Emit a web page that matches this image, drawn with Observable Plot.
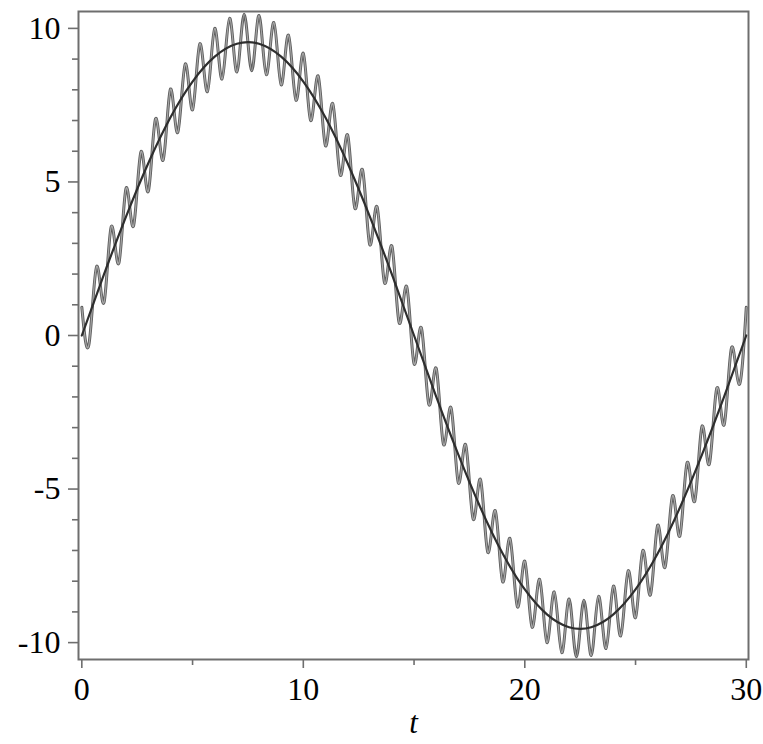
<!DOCTYPE html>
<html>
<head>
<meta charset="utf-8">
<script src="https://cdn.jsdelivr.net/npm/d3@7"></script>
<script src="https://cdn.jsdelivr.net/npm/@observablehq/plot@0.6"></script>
<style>
  html, body { margin: 0; padding: 0; background: #fff; }
</style>
</head>
<body>
<div id="chart"></div>
<script>
// Slow (smooth) curve
const smoothT = [0,1,2,3,4,5,6,7,8,9,10,11,12,13,14,15,16,17,18,19,20,21,22,23,24,25,26,27,28,29,30];
const smoothY = [0, 1.99, 3.88, 5.61, 7.10, 8.27, 9.08, 9.50, 9.50, 9.08, 8.27, 7.10, 5.61, 3.88, 1.99, 0,
  -1.99, -3.88, -5.61, -7.10, -8.27, -9.08, -9.50, -9.50, -9.08, -8.27, -7.10, -5.61, -3.88, -1.99, 0];

// Oscillating curve: successive peaks and troughs
const oscT = [0,0.33,0.67,1,1.33,1.67,2,2.33,2.67,3,3.33,3.67,4,4.33,4.67,5,5.33,5.67,6,6.33,6.67,7,7.33,7.67,
  8,8.33,8.67,9,9.33,9.67,10,10.33,10.67,11,11.33,11.67,12,12.33,12.67,13,13.33,13.67,14,14.33,14.67,15,
  15.33,15.67,16,16.33,16.67,17,17.33,17.67,18,18.33,18.67,19,19.33,19.67,20,20.33,20.67,21,21.33,21.67,
  22,22.33,22.67,23,23.33,23.67,24,24.33,24.67,25,25.33,25.67,26,26.33,26.67,27,27.33,27.67,28,28.33,28.67,
  29,29.33,29.67,30];
const oscY = [0.92, -0.25, 2.25, 1.07, 3.55, 2.35, 4.80, 3.56, 5.98, 4.69, 7.06, 5.71, 8.02, 6.61, 8.84, 7.35,
  9.50, 7.94, 10.00, 8.35, 10.33, 8.58, 10.46, 8.62, 10.42, 8.49, 10.19, 8.16, 9.78, 7.66, 9.19, 7.00, 8.45,
  6.18, 7.55, 5.22, 6.53, 4.14, 5.40, 2.96, 4.19, 1.71, 2.91, 0.41, 1.59, -0.92,
  0.25, -2.25, -1.07, -3.55, -2.35, -4.80, -3.56, -5.98, -4.69, -7.06, -5.71, -8.02, -6.61, -8.84, -7.35,
  -9.50, -7.94, -10.00, -8.35, -10.33, -8.58, -10.46, -8.62, -10.42, -8.49, -10.19, -8.16, -9.78, -7.66,
  -9.19, -7.00, -8.45, -6.18, -7.55, -5.22, -6.53, -4.14, -5.40, -2.96, -4.19, -1.71, -2.91, -0.41, -1.59, 0.92];

// Ticks
const xMajorTicks = [0, 10, 20, 30];
const xMinorTicks = [5, 15, 25];
const yMajorTicks = [-10, -5, 0, 5, 10];
const yMinorTicks = [-9,-8,-7,-6,-4,-3,-2,-1,1,2,3,4,6,7,8,9];
const xLabel = "t";

const smooth = smoothT.map((t, i) => ({t, y: smoothY[i]}));
const osc = oscT.map((t, i) => ({t, y: oscY[i]}));

const axisGray = "#6e6e6e";
const font = "Liberation Serif";

const chart = Plot.plot({
  width: 763,
  height: 744,
  marginLeft: 78,
  marginRight: 15,
  marginTop: 11,
  marginBottom: 85,
  style: {fontFamily: font, fontSize: "32px", background: "#fff", color: "#000", overflow: "visible"},
  x: {domain: [-0.15, 30.1]},
  y: {domain: [-10.55, 10.55]},
  marks: [
    Plot.axisY(yMinorTicks, {tickSize: 6, tickFormat: () => "", stroke: axisGray, strokeWidth: 1.6, label: null}),
    Plot.axisY(yMajorTicks, {tickSize: 10, tickPadding: 8, tickFormat: d => String(d), stroke: axisGray,
      strokeWidth: 1.6, fill: "#000", fontSize: 32, fontFamily: font, label: null}),
    Plot.axisX(xMinorTicks, {tickSize: 6, tickFormat: () => "", stroke: axisGray, strokeWidth: 1.6, label: null}),
    Plot.axisX(xMajorTicks, {tickSize: 9, tickPadding: 9, tickFormat: d => String(d), stroke: axisGray,
      strokeWidth: 1.6, fill: "#000", fontSize: 32, fontFamily: font, label: null}),
    Plot.axisX([], {tickSize: 0, label: xLabel, labelAnchor: "center", labelOffset: 73, labelArrow: "none",
      fontStyle: "italic", fontSize: 31, fontFamily: font, fill: "#000"}),
    Plot.line(osc, {x: "t", y: "y", curve: "natural", stroke: "#5e5e5e", strokeWidth: 3}),
    Plot.line(osc, {x: "t", y: "y", curve: "natural", stroke: "#a6a6a6", strokeWidth: 1.2}),
    Plot.line(smooth, {x: "t", y: "y", curve: "natural", stroke: "#2e2e2e", strokeWidth: 2.2}),
    Plot.frame({stroke: axisGray, strokeWidth: 2})
  ]
});
document.getElementById("chart").appendChild(chart);
</script>
</body>
</html>
